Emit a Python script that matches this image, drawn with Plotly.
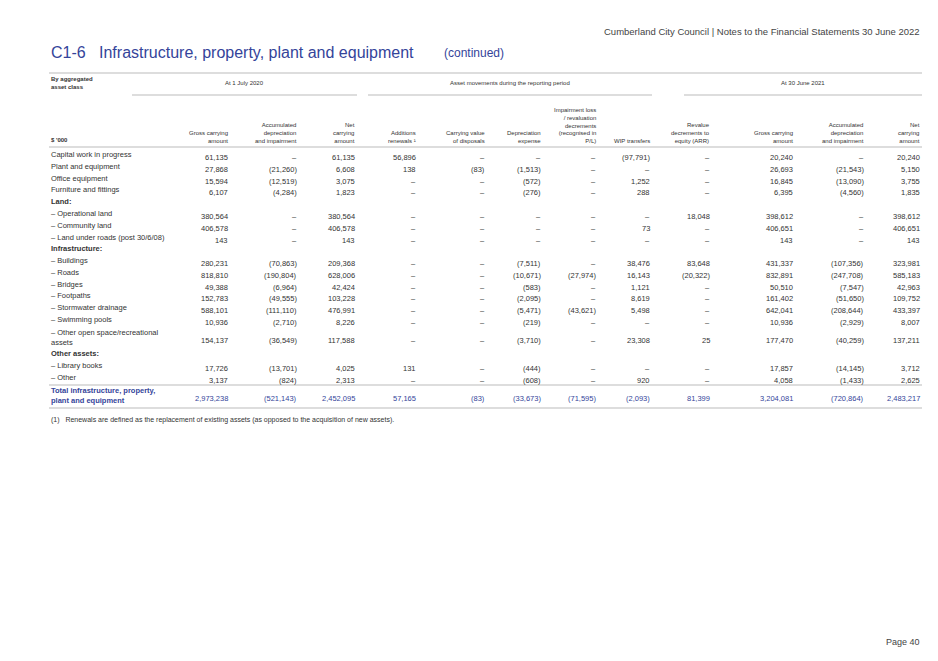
import plotly.graph_objects as go

# row labels and values ($'000)
row_labels = [
    "Capital work in progress", "Plant and equipment", "Office equipment", "Furniture and fittings",
    "Land:", "– Operational land", "– Community land", "– Land under roads (post 30/6/08)",
    "Infrastructure:", "– Buildings", "– Roads", "– Bridges", "– Footpaths", "– Stormwater drainage",
    "– Swimming pools", "– Other open space/recreational<br>assets", "Other assets:",
    "– Library books", "– Other", "Total infrastructure, property,<br>plant and equipment",
]
D = "–"
row_values = [
    ["61,135", D, "61,135", "56,896", D, D, D, "(97,791)", D, "20,240", D, "20,240"],
    ["27,868", "(21,260)", "6,608", "138", "(83)", "(1,513)", D, D, D, "26,693", "(21,543)", "5,150"],
    ["15,594", "(12,519)", "3,075", D, D, "(572)", D, "1,252", D, "16,845", "(13,090)", "3,755"],
    ["6,107", "(4,284)", "1,823", D, D, "(276)", D, "288", D, "6,395", "(4,560)", "1,835"],
    None,
    ["380,564", D, "380,564", D, D, D, D, D, "18,048", "398,612", D, "398,612"],
    ["406,578", D, "406,578", D, D, D, D, "73", D, "406,651", D, "406,651"],
    ["143", D, "143", D, D, D, D, D, D, "143", D, "143"],
    None,
    ["280,231", "(70,863)", "209,368", D, D, "(7,511)", D, "38,476", "83,648", "431,337", "(107,356)", "323,981"],
    ["818,810", "(190,804)", "628,006", D, D, "(10,671)", "(27,974)", "16,143", "(20,322)", "832,891", "(247,708)", "585,183"],
    ["49,388", "(6,964)", "42,424", D, D, "(583)", D, "1,121", D, "50,510", "(7,547)", "42,963"],
    ["152,783", "(49,555)", "103,228", D, D, "(2,095)", D, "8,619", D, "161,402", "(51,650)", "109,752"],
    ["588,101", "(111,110)", "476,991", D, D, "(5,471)", "(43,621)", "5,498", D, "642,041", "(208,644)", "433,397"],
    ["10,936", "(2,710)", "8,226", D, D, "(219)", D, D, D, "10,936", "(2,929)", "8,007"],
    ["154,137", "(36,549)", "117,588", D, D, "(3,710)", D, "23,308", "25", "177,470", "(40,259)", "137,211"],
    None,
    ["17,726", "(13,701)", "4,025", "131", D, "(444)", D, D, D, "17,857", "(14,145)", "3,712"],
    ["3,137", "(824)", "2,313", D, D, "(608)", D, "920", D, "4,058", "(1,433)", "2,625"],
    ["2,973,238", "(521,143)", "2,452,095", "57,165", "(83)", "(33,673)", "(71,595)", "(2,093)", "81,399", "3,204,081", "(720,864)", "2,483,217"],
]
col_headers = [
    "Gross carrying<br>amount", "Accumulated<br>depreciation<br>and impairment", "Net<br>carrying<br>amount",
    "Additions<br>renewals ¹", "Carrying value<br>of disposals", "Depreciation<br>expense",
    "Impairment loss<br>/ revaluation<br>decrements<br>(recognised in<br>P/L)", "WIP transfers",
    "Revalue<br>decrements to<br>equity (ARR)", "Gross carrying<br>amount", "Accumulated<br>depreciation<br>and impairment",
    "Net<br>carrying<br>amount",
]
group_headers = ["At 1 July 2020", "Asset movements during the reporting period", "At 30 June 2021"]

# layout positions (pixels)
col_right = [230, 299, 357, 418, 487, 543, 598, 652, 712, 795, 866, 922]
group_span = [(132, 357), (368, 652), (684, 922)]
row_y = [156, 168, 180, 191, 203, 215, 227, 239, 250, 262, 274, 286, 297, 309, 321, 339, 355, 367, 379, 397]
TXT = "#333333"
BLUE = "#34449a"
FONT = "Liberation Sans"
OFF = 8  # page body margin

fig = go.Figure()
ann = []
shapes = []


def text(x, y, s, size=7, color=TXT, anchor="right", yanchor="middle", bold=False):
    ann.append(dict(x=x, y=y, xref="x", yref="y", text=f"<b>{s}</b>" if bold else s, showarrow=False,
                    xanchor=anchor, yanchor=yanchor, align=anchor if anchor != "center" else "center",
                    font=dict(family=FONT, size=size, color=color)))


def line(x0, x1, y, color="#bbbbbb", w=1):
    shapes.append(dict(type="line", xref="x", yref="y", x0=x0, x1=x1, y0=y, y1=y, line=dict(color=color, width=w)))


text(922, 31, "Cumberland City Council | Notes to the Financial Statements 30 June 2022", size=9.5, color="#444444")
text(49, 52, "C1-6   Infrastructure, property, plant and equipment", size=16, color=BLUE, anchor="left")
text(442, 53, "(continued)", size=12, color=BLUE, anchor="left")

line(49, 922, 73)
text(49, 83, "By aggregated<br>asset class", size=6, anchor="left", bold=True)
for (a, b), g in zip(group_span, group_headers):
    text((a + b) / 2, 83, g, size=6, anchor="center")
    line(a, b, 95)
for x, h in zip(col_right, col_headers):
    text(x, 146, h, size=6, yanchor="bottom")
text(49, 140, "$ '000", size=6, anchor="left", bold=True)
line(49, 922, 147)

for i, (lab, vals) in enumerate(zip(row_labels, row_values)):
    total = i == len(row_labels) - 1
    heading = vals is None
    color = BLUE if total else TXT
    text(49, row_y[i] - 2, lab, size=7.5, color=color, anchor="left", bold=heading or total)
    if vals:
        for x, v in zip(col_right, vals):
            text(x, row_y[i] + 1, v, size=7.5, color=color)
line(49, 922, 385)
line(49, 922, 408)

text(49, 420, "(1)   Renewals are defined as the replacement of existing assets (as opposed to the acquisition of new assets).",
     size=7, anchor="left")
text(922, 642, "Page 40", size=9, color="#444444")

fig.update_layout(width=938, height=661, margin=dict(l=0, r=0, t=0, b=0),
                  paper_bgcolor="white", plot_bgcolor="white", annotations=ann, shapes=shapes,
                  xaxis=dict(range=[OFF, 938 + OFF], visible=False, fixedrange=True),
                  yaxis=dict(range=[661 + OFF, OFF], visible=False, fixedrange=True))
fig.write_html("out.html")
